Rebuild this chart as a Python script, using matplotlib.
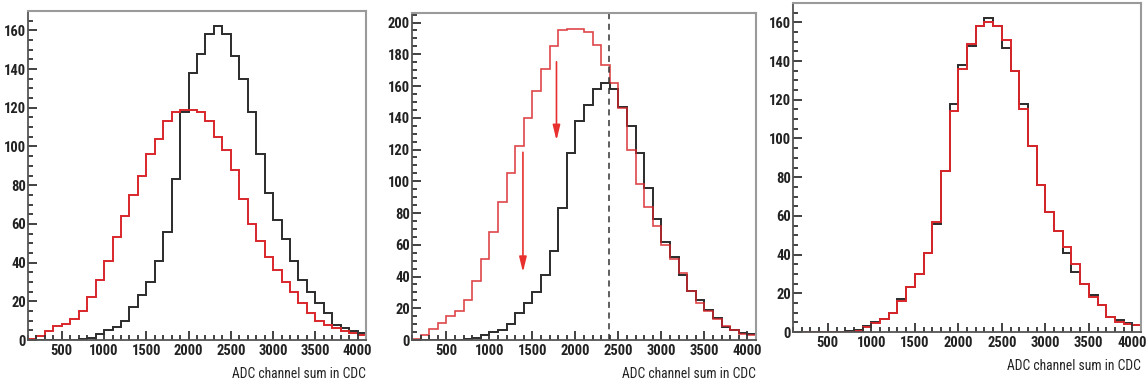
import numpy as np
import matplotlib
matplotlib.use('Agg')
from matplotlib import pyplot as plt
from matplotlib.ticker import MultipleLocator

# bin edges: 40 bins of 100 from 100 to 4100
edges = np.arange(100, 4200, 100)

# reference (black) histogram, same in all three panels
black = [0, 0, 0, 0, 0, 0, 0.5, 1, 3, 5, 6.5, 10, 17, 23, 30, 41, 56, 83, 118, 138,
         148, 158, 162, 158, 147, 135, 118, 96, 76, 62, 52, 41, 31, 25, 19, 14, 8, 6, 4.5, 3.8]

# red histograms
red_left = [0.5, 2, 4.5, 7, 8.5, 11, 15, 22, 31, 41, 53, 64, 75, 85, 96, 104, 113, 118, 119, 119,
            118, 113, 105, 98, 88, 73, 60, 51, 43, 36, 30, 25, 19, 14, 10, 8, 6, 4.5, 3.5, 2.5]
red_mid = [0.5, 3, 7, 11, 15, 18, 25, 37, 51, 68, 87, 105, 122, 140, 157, 171, 185, 195, 196, 196,
           194, 186, 173, 162, 146, 120, 98, 84, 72, 60, 51, 42, 31, 23, 18, 13, 9, 6, 4, 3]
red_right = [0, 0, 0, 0, 0, 0, 0, 0.5, 2.5, 4.5, 6.5, 10, 16, 23, 30, 41, 57, 83, 114, 136,
             149, 158, 160, 158, 151, 135, 115, 96, 76, 62, 52, 44, 35, 25, 18, 14, 8, 5, 4, 3.5]

cut_line = 2390
arrows = [(1780, 177, 124), (1390, 120, 41)]

xlabel = 'ADC channel sum in CDC'
font = ['Liberation Sans Narrow', 'Roboto Condensed', 'Liberation Sans', 'DejaVu Sans']

BLACK = '#2b2b2b'
RED = '#d8262b'

fig = plt.figure(figsize=(11.48, 3.85), dpi=100)
W, H = 1148, 385


def make_axes(left, right, top, bottom, ymax, ymajor):
    ax = fig.add_axes([left / W, (H - bottom) / H, (right - left) / W, (bottom - top) / H])
    ax.set_xlim(100, 4100)
    ax.set_ylim(0, ymax)
    ax.xaxis.set_major_locator(MultipleLocator(500))
    ax.xaxis.set_minor_locator(MultipleLocator(100))
    ax.yaxis.set_major_locator(MultipleLocator(ymajor))
    ax.yaxis.set_minor_locator(MultipleLocator(ymajor / 4))
    ax.tick_params(which='both', direction='in', color='#333333', width=1.3)
    ax.tick_params(which='major', length=6.5)
    ax.tick_params(which='minor', length=3.5)
    ax.tick_params(axis='y', pad=1.5)
    ax.tick_params(axis='x', pad=3)
    for s in ['top', 'right']:
        ax.spines[s].set_color('#9a9a9a')
        ax.spines[s].set_linewidth(1.5)
    for s in ['left', 'bottom']:
        ax.spines[s].set_color('#555555')
        ax.spines[s].set_linewidth(1.3)
    labs = ax.get_xticks()
    ax.set_xticks([t for t in labs if 500 <= t <= 4000])
    for lab in ax.get_xticklabels() + ax.get_yticklabels():
        lab.set_family(font)
        lab.set_fontweight('bold')
        lab.set_fontsize(10.5)
        lab.set_color('#222222')
    ax.set_xlabel(xlabel, loc='right', family=font, fontsize=9.8, color='#222222', labelpad=6)
    return ax


ax1 = make_axes(28, 366, 11, 340, 170, 20)
ax1.stairs(black, edges, color=BLACK, lw=1.4)
ax1.stairs(red_left, edges, color=RED, lw=1.4)

ax2 = make_axes(412, 756, 13, 340, 206, 20)
ax2.stairs(black, edges, color=BLACK, lw=1.4)
ax2.stairs(red_mid, edges, color=RED, lw=1.2, alpha=0.85)
ax2.axvline(cut_line, color='#333333', lw=1.1, ls=(0, (4, 3)))
for x, y0, y1 in arrows:
    ax2.annotate('', xy=(x, y1), xytext=(x, y0),
                 arrowprops=dict(arrowstyle='-|>,head_length=0.9,head_width=0.22',
                                 color='#e8312f', lw=1.2))

ax3 = make_axes(793, 1141, 3, 332, 170, 20)
ax3.stairs(black, edges, color=BLACK, lw=1.4)
ax3.stairs(red_right, edges, color=RED, lw=1.4)

fig.savefig('out.png', dpi=100)
